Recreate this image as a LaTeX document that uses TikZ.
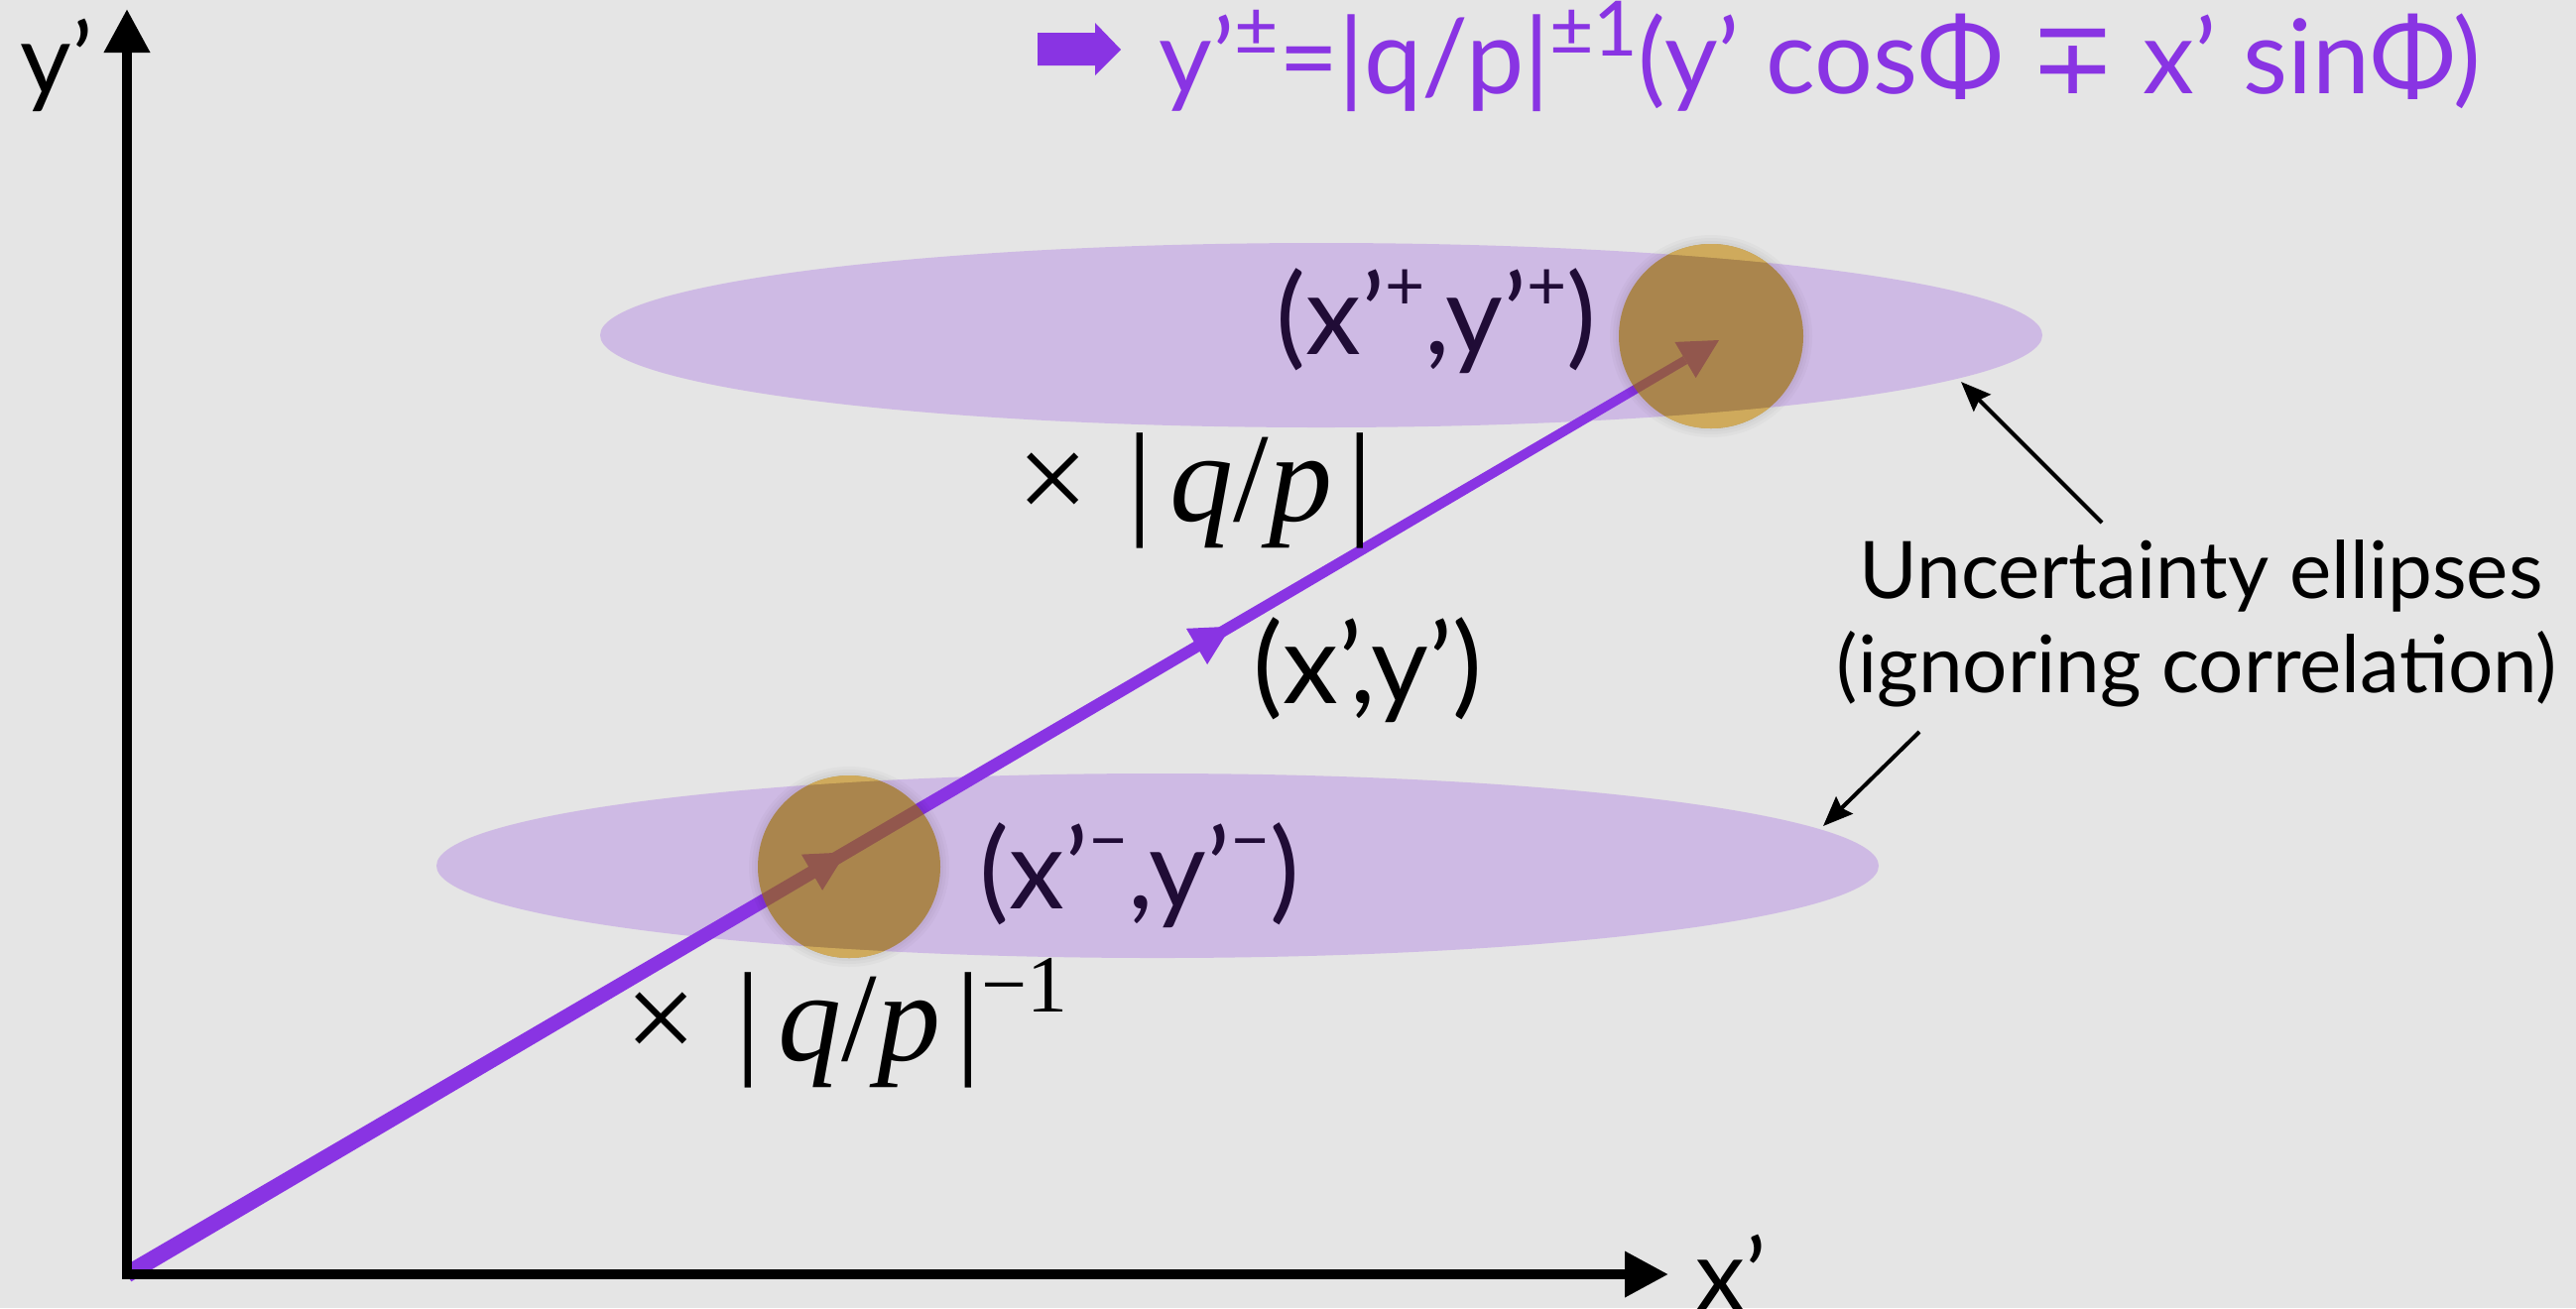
\documentclass[tikz,border=0pt]{standalone}
\usepackage{fontspec}
\usepackage{graphicx}
\setmainfont{Lato}
\newfontfamily\djv{DejaVu Sans}
\newfontfamily\tms{Liberation Serif}
\usetikzlibrary{arrows.meta}
\definecolor{bgc}{RGB}{229,229,229}
\definecolor{vio}{RGB}{137,52,227}
\definecolor{goldc}{RGB}{159,112,0}
\definecolor{goldtip}{RGB}{207,170,92}
\newcommand\upr[1]{\raisebox{0.40em}{\scalebox{0.62}{#1}}}
\newcommand\uprf[1]{\raisebox{0.36em}{\scalebox{0.74}{#1}}}
\newcommand\qp{×\hspace{0.3em}|\hspace{0.14em}\textit{q}/\textit{p}\hspace{0.12em}|}
\begin{document}
\begin{tikzpicture}[x=0.25pt,y=-0.25pt,
  big/.style={inner sep=0pt,font=\fontsize{25}{30}\selectfont},
  lab/.style={inner sep=0pt,font=\fontsize{28}{32}\selectfont},
  frm/.style={inner sep=0pt,font=\fontsize{26}{30}\selectfont},
  mid/.style={inner sep=0pt,font=\fontsize{20}{24}\selectfont},
  tim/.style={inner sep=0pt,font=\tms\fontsize{32}{36}\selectfont},
  axis/.style={line width=2.5pt,line join=miter},
  axtip/.tip={Triangle[length=11pt,width=11pt]},
  note/.style={line width=1pt,-{Stealth[length=7.5pt,width=6pt,inset=1pt]}},
  ell/.style={fill=vio,fill opacity=0.24},
  gold/.style={fill=goldc,fill opacity=0.63}
]
% background / bounding box
\fill[bgc] (0,0) rectangle (2597,1319);
\useasboundingbox (0,0) rectangle (2597,1319);

% coordinates
\coordinate (O) at (128,1285);
\coordinate (T) at (1733,343);
\coordinate (ytip) at (128,9);
\coordinate (xtip) at (1682,1285);

% main purple tapered arrow
\fill[vio] (132.3,1292.3) -- (1701.3,366.9) -- (1696.7,359.1) -- (123.7,1277.7) -- cycle;
\fill[vio] (T) -- (1709.6,381.1) -- (1688.4,344.9) -- cycle;
\fill[vio] (1241,631.7) -- (1217.1,670.0) -- (1195.9,633.8) -- cycle;
\fill[vio] (853,859.4) -- (829.1,897.8) -- (807.9,861.6) -- cycle;

% axes
\draw[axis,axtip-axtip] (ytip) -- (O) -- (xtip);
\node[big,anchor=base west] (ylab) at (20,95) {y’};
\node[big,anchor=base west] (xlab) at (1709,1321) {x’};

% labels under the ellipses
\node[lab,anchor=base] (pplus) at (1448,357) {(x’\upr{+},y’\upr{+})};
\node[lab,anchor=base] (pminus) at (1149,916) {(x’\upr{−},y’\upr{−})};

% uncertainty ellipses
\fill[ell] (1332,338) ellipse [x radius=727,y radius=93];
\fill[ell] (1167,873) ellipse [x radius=727,y radius=93];

% gold circles with soft halo
\foreach \cx/\cy/\r in {1725/339/93,856/874/92}{
  \foreach \d in {9,6,3}{
    \fill[black,opacity=0.025] (\cx,\cy) circle (\r+\d);
  }
  \fill[gold] (\cx,\cy) circle (\r);
}
\begin{scope}
  \clip (1725,339) circle (93);
  \fill[goldtip,even odd rule] (0,0) rectangle (2597,1319) (1332,338) ellipse [x radius=727,y radius=93];
\end{scope}
\begin{scope}
  \clip (856,874) circle (92);
  \fill[goldtip,even odd rule] (0,0) rectangle (2597,1319) (1167,873) ellipse [x radius=727,y radius=93];
\end{scope}

% other labels
\node[lab,anchor=base] (pmid) at (1379,709) {(x’,y’)};
\node[tim,anchor=base] (mq) at (1205,525) {\qp};
\node[tim,anchor=base west] (mqi) at (630,1069) {\qp\raisebox{0.38em}{\scalebox{0.64}{−1}}};

% formula at top
\fill[vio] (1046,33) -- (1104,33) -- (1104,23) -- (1130,50) -- (1104,76) -- (1104,66) -- (1046,66) -- cycle;
\node[frm,text=vio,anchor=base west] (formula) at (1168,94) {y’\uprf{±}=|q/p|\uprf{±1}(y’ cosΦ {\djv ∓} x’ sinΦ)};

% annotation
\node[mid,anchor=base] (unc1) at (2219,603) {Uncertainty ellipses};
\node[mid,anchor=base] (unc2) at (2215,698) {(ignoring correlation)};
\coordinate (a1s) at (2119,527);
\coordinate (a1e) at (1977,385);
\coordinate (a2s) at (1935,738);
\coordinate (a2e) at (1838,833);
\draw[note] (a1s) -- (a1e);
\draw[note] (a2s) -- (a2e);
\end{tikzpicture}
\end{document}
